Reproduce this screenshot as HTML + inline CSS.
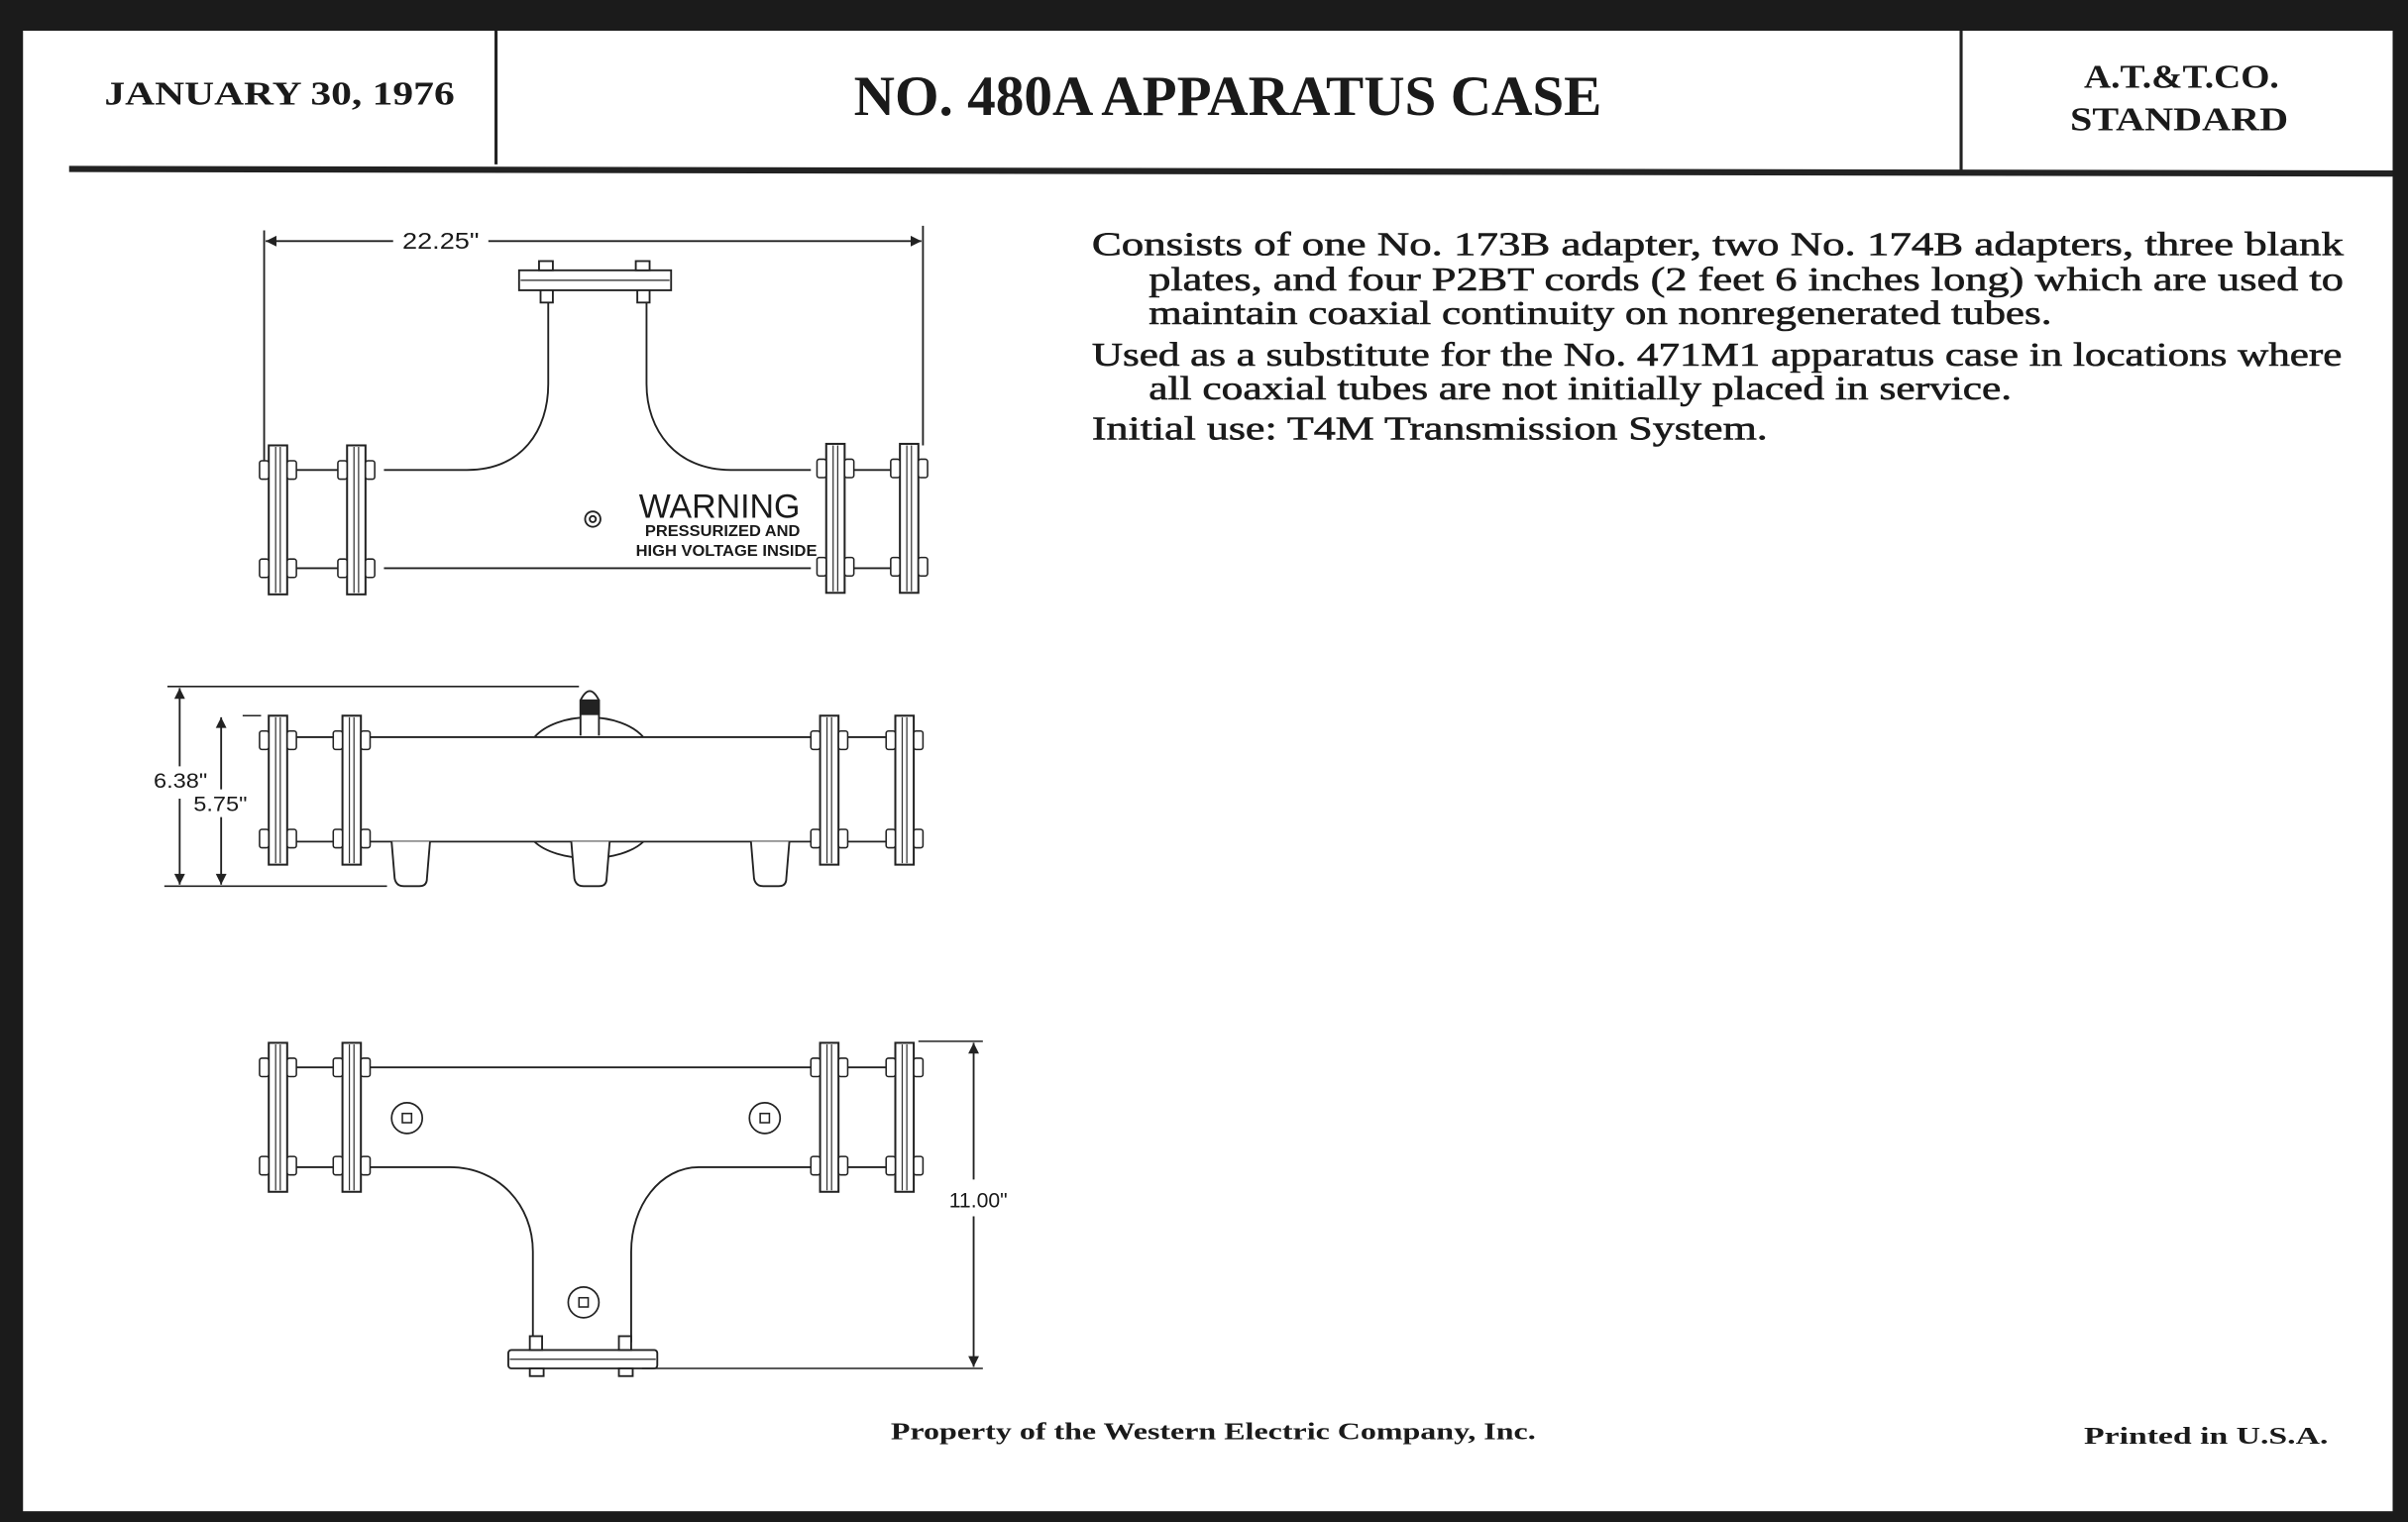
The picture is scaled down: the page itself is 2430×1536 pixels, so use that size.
<!DOCTYPE html>
<html><head><meta charset="utf-8"><style>
html,body{margin:0;padding:0;background:#1b1b1b;}
svg{display:block;}
</style></head><body>
<svg width="2430" height="1536" viewBox="0 0 1568 991" preserveAspectRatio="none" xmlns="http://www.w3.org/2000/svg">
<defs>
<g id="fl">
<rect x="0" y="0" width="12" height="97" fill="#fff" stroke="#222" stroke-width="1.3"/>
<line x1="4.5" y1="1" x2="4.5" y2="96" stroke="#333" stroke-width="0.8"/>
<line x1="7.5" y1="1" x2="7.5" y2="96" stroke="#333" stroke-width="0.8"/>
<rect x="-6" y="10" width="6" height="12" rx="1.5" fill="#fff" stroke="#222" stroke-width="1"/>
<rect x="12" y="10" width="6" height="12" rx="1.5" fill="#fff" stroke="#222" stroke-width="1"/>
<rect x="-6" y="74" width="6" height="12" rx="1.5" fill="#fff" stroke="#222" stroke-width="1"/>
<rect x="12" y="74" width="6" height="12" rx="1.5" fill="#fff" stroke="#222" stroke-width="1"/>
</g>
<g id="bolt"><circle r="10" fill="#fff" stroke="#222" stroke-width="1.1"/><rect x="-3" y="-3" width="6" height="6" fill="none" stroke="#222" stroke-width="1"/></g>
<marker id="ar" viewBox="0 0 10 10" refX="10" refY="5" markerWidth="9" markerHeight="7" orient="auto-start-reverse" markerUnits="userSpaceOnUse"><path d="M0,0 L10,5 L0,10 z" fill="#222"/></marker>
</defs>
<rect x="15" y="20" width="1543" height="964" fill="#fff"/>
<!-- header -->
<line x1="323" y1="20" x2="323" y2="107" stroke="#222" stroke-width="2"/>
<line x1="1277" y1="20" x2="1277" y2="112" stroke="#222" stroke-width="2"/>
<path d="M45 108 L1558 111 L1558 115 L45 112 z" fill="#222"/>
<g font-family="Liberation Serif, serif" font-weight="bold" fill="#1a1a1a">
<text x="68" y="68" font-size="22" textLength="228" lengthAdjust="spacingAndGlyphs">JANUARY 30, 1976</text>
<text x="556" y="75" font-size="37" textLength="487" lengthAdjust="spacingAndGlyphs">NO. 480A APPARATUS CASE</text>
<text x="1357" y="57" font-size="22" textLength="127" lengthAdjust="spacingAndGlyphs">A.T.&amp;T.CO.</text>
<text x="1348" y="85" font-size="22" textLength="142" lengthAdjust="spacingAndGlyphs">STANDARD</text>
<text x="580" y="937" font-size="16" textLength="420" lengthAdjust="spacingAndGlyphs">Property of the Western Electric Company, Inc.</text>
<text x="1357" y="940" font-size="16" textLength="159" lengthAdjust="spacingAndGlyphs">Printed in U.S.A.</text>
</g>
<g font-family="Liberation Serif, serif" font-size="22" fill="#1a1a1a" stroke="#1a1a1a" stroke-width="0.4">
<text x="711" y="166" textLength="815" lengthAdjust="spacingAndGlyphs">Consists of one No. 173B adapter, two No. 174B adapters, three blank</text>
<text x="748" y="189" textLength="778" lengthAdjust="spacingAndGlyphs">plates, and four P2BT cords (2 feet 6 inches long) which are used to</text>
<text x="748" y="211" textLength="588" lengthAdjust="spacingAndGlyphs">maintain coaxial continuity on nonregenerated tubes.</text>
<text x="711" y="238" textLength="814" lengthAdjust="spacingAndGlyphs">Used as a substitute for the No. 471M1 apparatus case in locations where</text>
<text x="748" y="260" textLength="562" lengthAdjust="spacingAndGlyphs">all coaxial tubes are not initially placed in service.</text>
<text x="711" y="286" textLength="440" lengthAdjust="spacingAndGlyphs">Initial use:  T4M Transmission System.</text>
</g>
<g fill="none" stroke="#222" stroke-width="1.2">
<!-- drawing 1 -->
<line x1="172" y1="150" x2="172" y2="300"/><line x1="601" y1="147" x2="601" y2="290"/>
<line x1="173" y1="157" x2="256" y2="157" marker-start="url(#ar)"/>
<line x1="318" y1="157" x2="600" y2="157" marker-end="url(#ar)"/>
<path d="M250 306 L304 306 C340 306 357 280 357 250 L357 197"/>
<path d="M421 197 L421 250 C421 280 440 306 476 306 L528 306"/>
<line x1="250" y1="370" x2="528" y2="370"/>
<line x1="187" y1="306" x2="226" y2="306"/><line x1="187" y1="370" x2="226" y2="370"/>
<line x1="550" y1="306" x2="586" y2="306"/><line x1="550" y1="370" x2="586" y2="370"/>
<rect x="338" y="176" width="99" height="13" fill="#fff"/>
<line x1="339" y1="182.5" x2="436" y2="182.5" stroke-width="0.8"/>
<rect x="351" y="170" width="9" height="6" fill="#fff"/><rect x="414" y="170" width="9" height="6" fill="#fff"/>
<rect x="352" y="189" width="8" height="8" fill="#fff"/><rect x="415" y="189" width="8" height="8" fill="#fff"/>
<circle cx="386" cy="338" r="5"/><circle cx="386" cy="338" r="2"/>
<!-- drawing 2 -->
<line x1="109" y1="447" x2="377" y2="447" stroke-width="1"/>
<line x1="107" y1="577" x2="252" y2="577" stroke-width="1"/>
<line x1="158" y1="466" x2="170" y2="466" stroke-width="1"/>
<line x1="117" y1="448" x2="117" y2="499" marker-start="url(#ar)"/>
<line x1="117" y1="520" x2="117" y2="576" marker-end="url(#ar)"/>
<line x1="144" y1="467" x2="144" y2="514" marker-start="url(#ar)"/>
<line x1="144" y1="532" x2="144" y2="576" marker-end="url(#ar)"/>
<path d="M348 480 A40 24 0 0 1 419 480"/>
<path d="M348 548 A40 20 0 0 0 419 548"/>
<line x1="235" y1="480" x2="534" y2="480"/><line x1="235" y1="548" x2="534" y2="548"/>
<line x1="187" y1="480" x2="223" y2="480"/><line x1="187" y1="548" x2="223" y2="548"/>
<line x1="546" y1="480" x2="583" y2="480"/><line x1="546" y1="548" x2="583" y2="548"/>
<path d="M378 479 L378 456 Q384 444 390 456 L390 479" fill="#fff"/>
<rect x="378" y="456" width="12" height="9" fill="#222"/>
<path d="M255 548 L257 572 Q258 577 263 577 L273 577 Q278 577 278 572 L280 548" fill="#fff"/>
<path d="M372 548 L374 572 Q375 577 380 577 L390 577 Q395 577 395 572 L397 548" fill="#fff"/>
<path d="M489 548 L491 572 Q492 577 497 577 L507 577 Q512 577 512 572 L514 548" fill="#fff"/>
<!-- drawing 3 -->
<line x1="235" y1="695" x2="534" y2="695"/>
<path d="M235 760 L293 760 C325 760 347 785 347 815 L347 874"/>
<path d="M411 874 L411 815 C411 785 430 760 455 760 L534 760"/>
<line x1="187" y1="695" x2="223" y2="695"/><line x1="187" y1="760" x2="223" y2="760"/>
<line x1="546" y1="695" x2="583" y2="695"/><line x1="546" y1="760" x2="583" y2="760"/>
<rect x="331" y="879" width="97" height="12" rx="2" fill="#fff"/>
<line x1="332" y1="885" x2="427" y2="885" stroke-width="0.8"/>
<rect x="345" y="870" width="8" height="9" fill="#fff"/><rect x="403" y="870" width="8" height="9" fill="#fff"/>
<rect x="345" y="891" width="9" height="5" fill="#fff"/><rect x="403" y="891" width="9" height="5" fill="#fff"/>
<line x1="598" y1="678" x2="640" y2="678" stroke-width="1"/>
<line x1="418" y1="891" x2="640" y2="891" stroke-width="1"/>
<line x1="634" y1="679" x2="634" y2="768" marker-start="url(#ar)"/>
<line x1="634" y1="792" x2="634" y2="890" marker-end="url(#ar)"/>
</g>
<use href="#fl" x="175" y="290"/><use href="#fl" x="226" y="290"/><use href="#fl" x="538" y="289"/><use href="#fl" x="586" y="289"/>
<use href="#fl" x="175" y="466"/><use href="#fl" x="223" y="466"/><use href="#fl" x="534" y="466"/><use href="#fl" x="583" y="466"/>
<use href="#fl" x="175" y="679"/><use href="#fl" x="223" y="679"/><use href="#fl" x="534" y="679"/><use href="#fl" x="583" y="679"/>
<use href="#bolt" x="265" y="728"/><use href="#bolt" x="498" y="728"/><use href="#bolt" x="380" y="848"/>
<g font-family="Liberation Sans, sans-serif" fill="#1a1a1a">
<text x="262" y="162" font-size="15" textLength="50" lengthAdjust="spacingAndGlyphs">22.25"</text>
<text x="416" y="337" font-size="22" textLength="105" lengthAdjust="spacingAndGlyphs">WARNING</text>
<text x="420" y="349" font-size="10" font-weight="bold" textLength="101" lengthAdjust="spacingAndGlyphs">PRESSURIZED AND</text>
<text x="414" y="362" font-size="10" font-weight="bold" textLength="118" lengthAdjust="spacingAndGlyphs">HIGH VOLTAGE INSIDE</text>
<text x="100" y="513" font-size="14" textLength="35" lengthAdjust="spacingAndGlyphs">6.38"</text>
<text x="126" y="528" font-size="14" textLength="35" lengthAdjust="spacingAndGlyphs">5.75"</text>
<text x="618" y="786" font-size="14" textLength="38" lengthAdjust="spacingAndGlyphs">11.00"</text>
</g>
</svg>
</body></html>
